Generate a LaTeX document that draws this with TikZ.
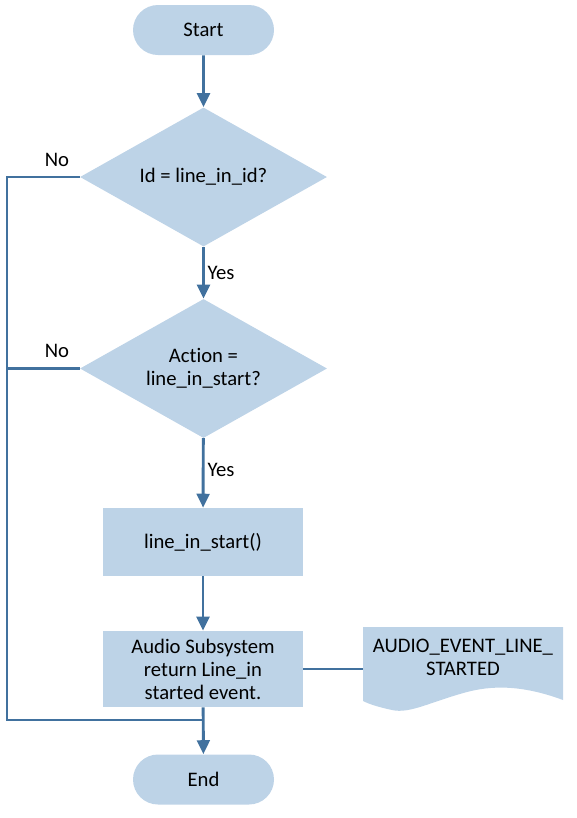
\documentclass[tikz,border=0pt]{standalone}
\usepackage{fontspec}
\setmainfont{Carlito}[RawFeature=-liga]
\usetikzlibrary{shapes.geometric,shapes.misc,arrows.meta}
\definecolor{boxfill}{RGB}{189,211,231}
\definecolor{linecol}{RGB}{65,113,158}
\def\px{0.75pt}
\tikzset{
  base/.style={fill=boxfill,draw=none,font=\fontsize{15.5}{17.25}\selectfont,align=center,inner sep=0pt},
  term/.style={base,rounded rectangle,minimum width=141*\px,minimum height=50*\px},
  decision/.style={base,diamond,minimum width=247*\px,minimum height=139*\px},
  process/.style={base,rectangle,minimum width=200*\px},
  conn/.style={draw=linecol,line width=2.2pt},
  arr/.style={conn,-{Triangle[length=10.5pt,width=9.5pt]}},
  lbl/.style={font=\fontsize{15.5}{17.25}\selectfont,inner sep=0pt,align=center}
}
\begin{document}
\begin{tikzpicture}[x=0.75pt,y=-0.75pt]
\useasboundingbox (0,0) rectangle (576,818);
% shapes
\node[term] (start) at (203.5,30) {Start};
\node[decision] (d1) at (203.5,177) {};
\node[lbl] (d1t) at (d1) {Id = line\_in\_id?};
\node[decision] (d2) at (203.5,368.5) {};
\node[lbl] (d2t) at (d2) {Action =\\line\_in\_start?};
\node[process,minimum height=68*\px] (p1) at (203,542) {line\_in\_start()};
\node[process,minimum height=76*\px] (p2) at (203,669) {Audio Subsystem\\return Line\_in\\started event.};
\node[term] (end) at (203.5,779.5) {End};
% document shape
\fill[boxfill] (363,627) -- (563,627) -- (563,700)
  .. controls (520,684) and (490,686) .. (467,692)
  .. controls (430,702) and (410,714) .. (392,710)
  .. controls (378,707) and (369,704) .. (363,701) -- cycle;
\node[lbl] (doc) at (463,657) {AUDIO\_EVENT\_LINE\_\\STARTED};
\coordinate (docw) at (363,667);
% connectors
\coordinate (L) at (7,720);
\coordinate (J) at (203,720);
\draw[arr] (start) -- (d1);
\draw[arr] (d1) -- (d2);
\draw[arr] (d2) -- (p1);
\draw[arr] (p1) -- (p2);
\draw[arr] (p2) -- (end);
\draw[conn] (d1.west) -| (L) -- (J);
\draw[conn] (d2.west) -- (d2.west -| L);
\draw[conn] (p2.east) -- (p2.east -| docw);
% labels
\node[lbl] (no1) at (57,160) {No};
\node[lbl] (no2) at (57,351) {No};
\node[lbl] (yes1) at (221,273) {Yes};
\node[lbl] (yes2) at (221,470) {Yes};
\end{tikzpicture}
\end{document}
